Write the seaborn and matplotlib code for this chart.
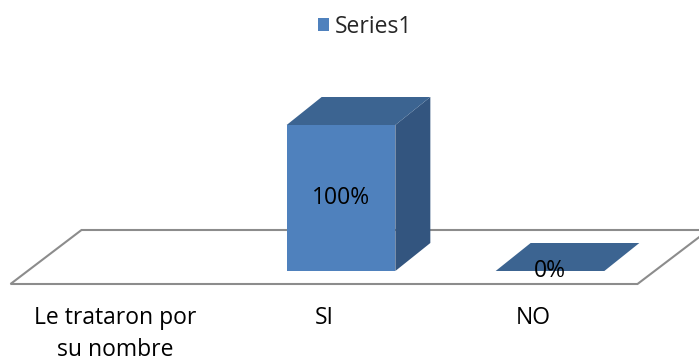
import matplotlib
matplotlib.use("Agg")
import matplotlib.pyplot as plt
from matplotlib.patches import Polygon
import numpy as np
import pandas as pd
import seaborn as sns

# Chart data
categories = ["Le trataron por\nsu nombre", "SI", "NO"]
values = [np.nan, 100, 0]          # percent; the first category carries no bar
series_name = "Series1"

FRONT = "#4F81BD"
TOP = "#3C6491"
SIDE = "#33557F"
FLOOR_EDGE = "#8C8C8C"

W, H, DPI = 699, 363, 100
sns.set_theme(style="white")
plt.rcParams["font.family"] = ["Open Sans", "DejaVu Sans"]
FS = 16.5

fig = plt.figure(figsize=(W / DPI, H / DPI), dpi=DPI)
# axes = front plane of the bars: x -0.5..2.5, y 0..100 %
ax = fig.add_axes([27.5 / W, (H - 271) / H, 627 / W, 146 / H])

df = pd.DataFrame({"category": categories, "value": values,
                   "series": [series_name] * len(categories)})
sns.barplot(data=df, x="category", y="value", hue="series", order=categories,
            palette=[FRONT], width=0.52, saturation=1, ax=ax, zorder=3,
            linewidth=0)

ax.set_xlim(-0.5, 2.5)
ax.set_ylim(0, 100)

px_x = 627 / 3.0      # pixels per category unit
px_y = 146 / 100.0    # pixels per percent

def off(dx_px, dy_px):
    return dx_px / px_x, dy_px / px_y

# floor of the 3-D plot
fx0, fy0 = off(-17, -13)
fx1, fy1 = off(54, 41)
x_lo, x_hi = -0.5, 2.5
floor = [(x_lo + fx0, fy0), (x_hi + fx0, fy0), (x_hi + fx1, fy1), (x_lo + fx1, fy1)]
ax.add_patch(Polygon(floor, closed=True, facecolor="white", edgecolor=FLOOR_EDGE,
                     linewidth=1.5, clip_on=False, zorder=1))

# depth faces of each bar
bdx, bdy = off(35, 28)
bars = [p for p in ax.patches if isinstance(p, matplotlib.patches.Rectangle)]
for patch in bars:
    h = patch.get_height()
    if not np.isfinite(h):
        continue
    x0, w = patch.get_x(), patch.get_width()
    v = values[int(round(x0 + w / 2))]
    patch.set_clip_on(False)
    top = [(x0, h), (x0 + bdx, h + bdy), (x0 + w + bdx, h + bdy), (x0 + w, h)]
    side = [(x0 + w, 0), (x0 + w + bdx, bdy), (x0 + w + bdx, h + bdy), (x0 + w, h)]
    ax.add_patch(Polygon(side, closed=True, facecolor=SIDE, edgecolor="none",
                         clip_on=False, zorder=3))
    ax.add_patch(Polygon(top, closed=True, facecolor=TOP, edgecolor="none",
                         clip_on=False, zorder=3))
    ax.text(x0 + w / 2, v / 2, f"{v:.0f}%", ha="center", va="center",
            fontsize=FS, color="black", zorder=5)

# category labels sit under the floor's front edge
ax.set_xticks([i + fx0 for i in range(len(categories))])
ax.set_xticklabels(categories, fontsize=FS, color="black", linespacing=1.45)
ax.tick_params(axis="x", length=0, pad=25)
ax.set_yticks([])
ax.set_xlabel("")
ax.set_ylabel("")
for s in ax.spines.values():
    s.set_visible(False)

sns.move_legend(ax, "center", bbox_to_anchor=(0.522, 1 - 27 / H),
                bbox_transform=fig.transFigure, frameon=False, title=None,
                fontsize=FS, handlelength=0.5, handleheight=0.5,
                handletextpad=0.25)

fig.savefig("out.png", dpi=DPI)
